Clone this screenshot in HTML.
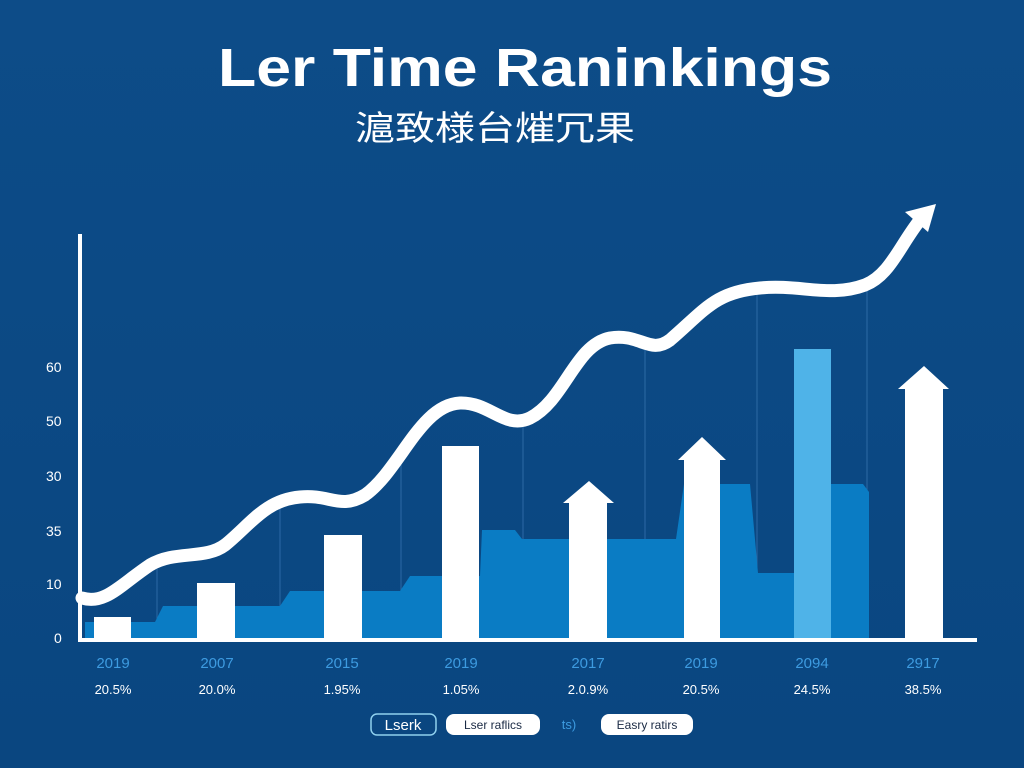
<!DOCTYPE html>
<html><head><meta charset="utf-8"><style>
html,body{margin:0;padding:0;background:#0b4a85;}
svg{display:block}
text{font-family:"Liberation Sans","Noto Sans CJK SC",sans-serif}
</style></head><body>
<svg width="1024" height="768" viewBox="0 0 1024 768">
<defs>
<linearGradient id="bg" x1="0" y1="0" x2="0" y2="1"><stop offset="0" stop-color="#0d4c88"/><stop offset="1" stop-color="#0a4680"/></linearGradient>
</defs>
<rect width="1024" height="768" fill="url(#bg)"/>
<text x="218" y="86" textLength="614" lengthAdjust="spacingAndGlyphs" font-size="54" font-weight="bold" fill="#fff">Ler Time Raninkings</text>
<text x="355" y="140" textLength="280" lengthAdjust="spacingAndGlyphs" font-size="34" fill="#fff">滬致様台熣冗果</text>
<!-- grid lines -->
<g stroke="#3a78b4" stroke-width="1" opacity="0.7">
<line x1="157" y1="560" x2="157" y2="640"/><line x1="280" y1="500" x2="280" y2="640"/>
<line x1="401" y1="460" x2="401" y2="640"/><line x1="523" y1="420" x2="523" y2="640"/>
<line x1="645" y1="345" x2="645" y2="640"/><line x1="757" y1="290" x2="757" y2="640"/>
<line x1="867" y1="290" x2="867" y2="640"/>
</g>
<!-- blue area -->
<path d="M85,640 L85,622 L155,622 L163,606 L280,606 L290,591 L400,591 L410,576 L480,576 L482,530 L515,530 L522,539 L676,539 L684,484 L750,484 L758,573 L795,573 L795,640 Z" fill="#0a7cc4"/>
<path d="M831,640 L831,484 L863,484 L869,492 L869,640 Z" fill="#0a7cc4"/>
<rect x="794" y="349" width="37" height="291" fill="#4fb3e8"/>
<!-- white bars -->
<g fill="#fff">
<rect x="94" y="617" width="37" height="23"/>
<rect x="197" y="583" width="38" height="57"/>
<rect x="324" y="535" width="38" height="105"/>
<rect x="442" y="446" width="37" height="194"/>
<path d="M569,640 V503 H563 L589,481 L614,503 H607 V640 Z"/>
<path d="M684,640 V460 H678 L702,437 L726,460 H720 V640 Z"/>
<path d="M905,640 V389 H898 L924,366 L949,389 H943 V640 Z"/>
</g>
<!-- axes -->
<line x1="80" y1="234" x2="80" y2="641" stroke="#fff" stroke-width="4"/>
<line x1="78" y1="640" x2="977" y2="640" stroke="#fff" stroke-width="4"/>
<!-- line -->
<path d="M82,598 C105,605 120,585 150,565 C175,550 205,560 225,545 C250,525 265,500 300,497 C330,494 340,510 365,495 C400,470 420,405 460,403 C490,402 505,430 530,418 C565,400 575,345 610,338 C640,333 650,355 670,340 C705,310 715,292 760,288 C800,284 830,298 865,285 C890,275 900,245 920,220" fill="none" stroke="#fff" stroke-width="13" stroke-linecap="round"/>
<path d="M905,212 L936,204 L928,232 Z" fill="#fff"/>
<!-- y labels -->
<g fill="#fff" font-size="14">
<text x="46" y="372">60</text><text x="46" y="426">50</text><text x="46" y="481">30</text>
<text x="46" y="536">35</text><text x="46" y="589">10</text><text x="54" y="643">0</text>
</g>
<!-- x labels -->
<g fill="#3d9be0" font-size="15" text-anchor="middle">
<text x="113" y="668">2019</text><text x="217" y="668">2007</text><text x="342" y="668">2015</text>
<text x="461" y="668">2019</text><text x="588" y="668">2017</text><text x="701" y="668">2019</text>
<text x="812" y="668">2094</text><text x="923" y="668">2917</text>
</g>
<g fill="#fff" font-size="13" text-anchor="middle">
<text x="113" y="694">20.5%</text><text x="217" y="694">20.0%</text><text x="342" y="694">1.95%</text>
<text x="461" y="694">1.05%</text><text x="588" y="694">2.0.9%</text><text x="701" y="694">20.5%</text>
<text x="812" y="694">24.5%</text><text x="923" y="694">38.5%</text>
</g>
<!-- legend -->
<rect x="371" y="714" width="65" height="21" rx="6" fill="none" stroke="#8fd0ee" stroke-width="1.5"/>
<text x="403" y="730" text-anchor="middle" font-size="15" fill="#fff">Lserk</text>
<rect x="446" y="714" width="94" height="21" rx="8" fill="#fff"/>
<text x="493" y="729" text-anchor="middle" font-size="12" fill="#1a2a44">Lser raflics</text>
<text x="569" y="729" text-anchor="middle" font-size="13" fill="#3d9be0">ts)</text>
<rect x="601" y="714" width="92" height="21" rx="8" fill="#fff"/>
<text x="647" y="729" text-anchor="middle" font-size="12" fill="#1a2a44">Easry ratirs</text>
</svg>
</body></html>
